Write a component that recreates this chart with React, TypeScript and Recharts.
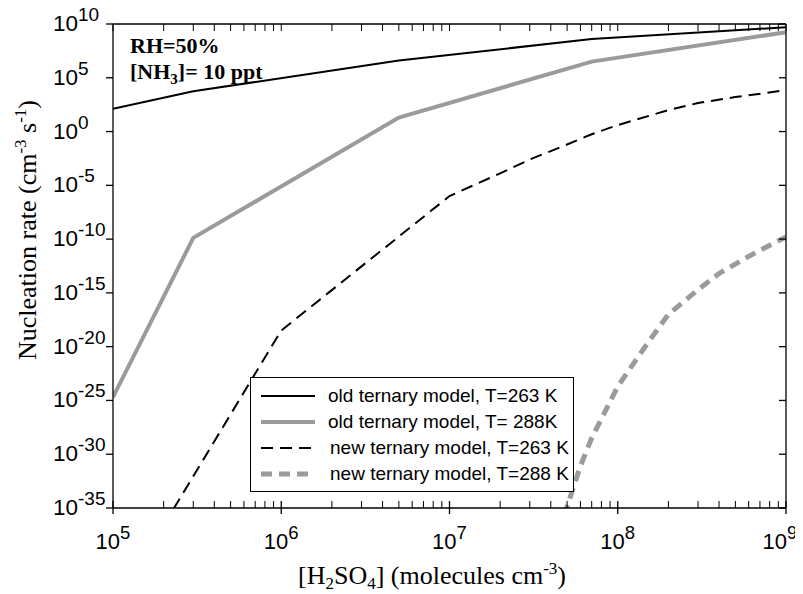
import React from "react";
import {
  LineChart,
  Line,
  XAxis,
  YAxis,
  Legend,
  Customized,
} from "recharts";

// [H2SO4] values (molecules cm-3) and nucleation rates (cm-3 s-1)
const xOld = [1e5, 3e5, 5e6, 7e7, 1e9];
const oldT263 = [1.3e2, 5.6e3, 4e6, 4e8, 5e9];
const oldT288 = [2e-25, 1.3e-10, 2e1, 3.2e6, 1.7e9];

const xNew263 = [2e5, 1e6, 1e7, 2e7, 3e7, 5e7, 7e7, 1e8, 2e8, 3e8, 5e8, 1e9];
const newT263 = [
  2.5e-37, 3.2e-19, 1e-6, 1.3e-4, 2.5e-3, 6.3e-2, 0.56, 4, 100, 450, 1.6e3, 7e3,
];

const xNew288 = [4.8e7, 6e7, 7e7, 1e8, 1.5e8, 2e8, 3e8, 4e8, 6e8, 1e9];
const newT288 = [
  2e-36, 7.9e-32, 3.2e-29, 2e-24, 2e-20, 1e-17, 2e-15, 6.3e-14, 2.5e-12, 1.6e-10,
];

const xMajor = [1e5, 1e6, 1e7, 1e8, 1e9];
const xMinor = [2, 3, 4, 5, 6, 7, 8, 9];
const yMajor = [1e10, 1e5, 1, 1e-5, 1e-10, 1e-15, 1e-20, 1e-25, 1e-30, 1e-35];

const toPoints = (xs: number[], ys: number[]) =>
  xs.map((x, i) => ({ x, y: ys[i] }));

const xAllTicks = xMajor.concat(
  xMajor.slice(0, -1).flatMap((d) => xMinor.map((m) => m * d))
);

const series = [
  { name: "old ternary model, T=263 K", data: toPoints(xOld, oldT263), color: "#000", width: 2, dash: undefined, indent: 0 },
  { name: "old ternary model, T= 288K", data: toPoints(xOld, oldT288), color: "#9b9b9b", width: 4, dash: undefined, indent: 0 },
  { name: "new ternary model, T=263 K", data: toPoints(xNew263, newT263), color: "#000", width: 2, dash: "12 7", indent: 2 },
  { name: "new ternary model, T=288 K", data: toPoints(xNew288, newT288), color: "#9b9b9b", width: 5, dash: "11 7", indent: 2 },
];

const sans = "'Liberation Sans', Arial, sans-serif";
const serif = "'Liberation Serif', 'Times New Roman', serif";

const isMajor = (v: number) => xMajor.some((m) => Math.abs(m - v) / m < 1e-6);
const exp10 = (v: number) => Math.round(Math.log10(v));

function LeftTick(props: any) {
  const { x, y, payload } = props;
  return (
    <g>
      <line x1={x - 7} y1={y} x2={x} y2={y} stroke="#000" strokeWidth={1.3} />
      <text x={x - 60} y={y + 7} fontFamily={sans} fontSize={22.5} fill="#000">
        10
        <tspan dy={-10} fontSize={19}>
          {exp10(payload.value)}
        </tspan>
      </text>
    </g>
  );
}

function RightTick(props: any) {
  const { x, y } = props;
  return <line x1={x - 7} y1={y} x2={x} y2={y} stroke="#000" strokeWidth={1.3} />;
}

function BottomTick(props: any) {
  const { x, y, payload } = props;
  if (!isMajor(payload.value)) {
    return <line x1={x} y1={y - 7} x2={x} y2={y} stroke="#000" strokeWidth={1} />;
  }
  const last = payload.value === xMajor[xMajor.length - 1];
  return (
    <g>
      <line x1={x} y1={y - 7} x2={x} y2={y + 6} stroke="#000" strokeWidth={1.3} />
      <text
        x={last ? x - 6 : x}
        y={y + 41}
        textAnchor="middle"
        fontFamily={sans}
        fontSize={22}
        fill="#000"
      >
        10
        <tspan dy={-10} fontSize={18.5}>
          {exp10(payload.value)}
        </tspan>
      </text>
    </g>
  );
}

function TopTick(props: any) {
  const { x, y } = props;
  return <line x1={x} y1={y} x2={x} y2={y + 7} stroke="#000" strokeWidth={1} />;
}

function Annotations() {
  return (
    <g>
      <text x={122} y={45} fontFamily={serif} fontWeight="bold" fontSize={22} fill="#000">
        RH=50%
      </text>
      <text x={122} y={71} fontFamily={serif} fontWeight="bold" fontSize={22} fill="#000">
        [NH<tspan dy={5} fontSize={15}>3</tspan>
        <tspan dy={-5}>]= 10 ppt</tspan>
      </text>
      <text
        transform="translate(28, 222) rotate(-90)"
        textAnchor="middle"
        fontFamily={serif}
        fontSize={26}
        fill="#000"
      >
        Nucleation rate (cm<tspan dy={-10} fontSize={17}>-3</tspan>
        <tspan dy={10}> s</tspan>
        <tspan dy={-10} fontSize={17}>-1</tspan>
        <tspan dy={10}>)</tspan>
      </text>
      <text x={424} y={576} textAnchor="middle" fontFamily={serif} fontSize={26} fill="#000">
        [H<tspan dy={5} fontSize={17}>2</tspan>
        <tspan dy={-5}>SO</tspan>
        <tspan dy={5} fontSize={17}>4</tspan>
        <tspan dy={-5}>] (molecules cm</tspan>
        <tspan dy={-10} fontSize={17}>-3</tspan>
        <tspan dy={10}>)</tspan>
      </text>
    </g>
  );
}

function LegendBox() {
  return (
    <div
      style={{
        border: "1.5px solid #000",
        boxSizing: "border-box",
        width: 324,
        height: 115,
        background: "#fff",
        paddingTop: 5,
      }}
    >
      {series.map((s) => (
        <div key={s.name} style={{ display: "flex", alignItems: "center", height: 26 }}>
          <svg width={56} height={10} style={{ marginLeft: 9 }}>
            <line
              x1={1}
              y1={5}
              x2={55}
              y2={5}
              stroke={s.color}
              strokeWidth={s.width}
              strokeDasharray={s.dash}
            />
          </svg>
          <span
            style={{
              marginLeft: 12 + s.indent,
              fontFamily: sans,
              fontSize: 19,
              color: "#000",
              whiteSpace: "nowrap",
            }}
          >
            {s.name}
          </span>
        </div>
      ))}
    </div>
  );
}

export default function App() {
  return (
    <div style={{ width: 795, height: 586, background: "#fff" }}>
      <LineChart
        width={795}
        height={586}
        margin={{ top: 15, right: 16, bottom: 0, left: 0 }}
        style={{ overflow: "visible" }}
      >
        <XAxis
          xAxisId={0}
          dataKey="x"
          type="number"
          scale="log"
          domain={[1e5, 1e9]}
          allowDataOverflow
          ticks={xAllTicks}
          interval={0}
          tickSize={0}
          tickMargin={0}
          tick={<BottomTick />}
          tickLine={false}
          axisLine={{ stroke: "#000", strokeWidth: 1.3 }}
          height={86}
        />
        <XAxis
          xAxisId="top"
          orientation="top"
          dataKey="x"
          type="number"
          scale="log"
          domain={[1e5, 1e9]}
          allowDataOverflow
          ticks={xAllTicks}
          interval={0}
          tickSize={0}
          tickMargin={0}
          tick={<TopTick />}
          tickLine={false}
          axisLine={{ stroke: "#000", strokeWidth: 1.3 }}
          height={1}
        />
        <YAxis
          yAxisId={0}
          type="number"
          scale="log"
          domain={[1e-35, 1e10]}
          allowDataOverflow
          ticks={yMajor}
          interval={0}
          tickSize={0}
          tickMargin={0}
          tick={<LeftTick />}
          tickLine={false}
          axisLine={{ stroke: "#000", strokeWidth: 1.3 }}
          width={105}
        />
        <YAxis
          yAxisId="right"
          orientation="right"
          type="number"
          scale="log"
          domain={[1e-35, 1e10]}
          allowDataOverflow
          ticks={yMajor}
          interval={0}
          tickSize={0}
          tickMargin={0}
          tick={<RightTick />}
          tickLine={false}
          axisLine={{ stroke: "#000", strokeWidth: 1.3 }}
          width={1}
        />
        {series.map((s) => (
          <Line
            key={s.name}
            data={s.data}
            dataKey="y"
            type="linear"
            stroke={s.color}
            strokeWidth={s.width}
            strokeDasharray={s.dash}
            dot={false}
            activeDot={false}
            isAnimationActive={false}
          />
        ))}
        <Legend
          layout="vertical"
          align="center"
          verticalAlign="middle"
          content={<LegendBox />}
          wrapperStyle={{ position: "absolute", left: 242, top: 369, width: 324, height: 115 }}
        />
        <Customized component={<Annotations />} />
      </LineChart>
    </div>
  );
}
